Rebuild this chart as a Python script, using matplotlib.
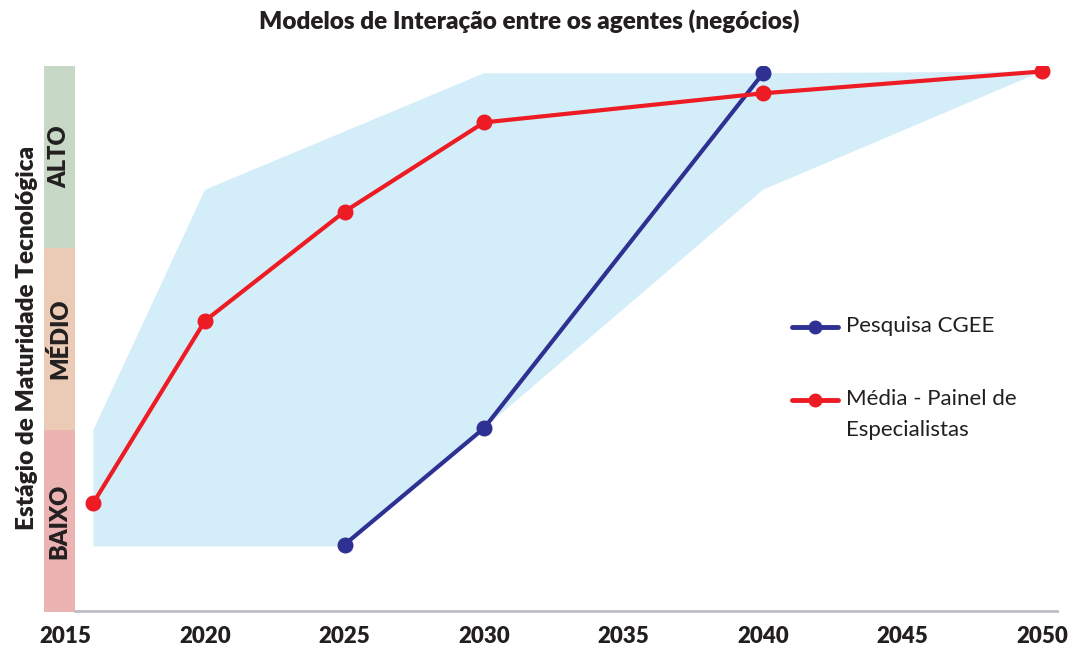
import matplotlib
matplotlib.use("Agg")
import matplotlib.pyplot as plt
import matplotlib.transforms as mtransforms
from matplotlib.patches import Rectangle
import numpy as np

plt.rcParams['font.family'] = ['Lato', 'DejaVu Sans']

# data
title = "Modelos de Interação entre os agentes (negócios)"
ylabel = "Estágio de Maturidade Tecnológica"
levels = ["BAIXO", "MÉDIO", "ALTO"]
level_colors = ["#ebb3b2", "#ebcbb5", "#c7d9c6"]
xticks = [2015, 2020, 2025, 2030, 2035, 2040, 2045, 2050]

red_years = [2016, 2020, 2025, 2030, 2040, 2050]
red_vals = [0.60, 1.60, 2.20, 2.69, 2.85, 2.97]
blue_years = [2025, 2030, 2040]
blue_vals = [0.37, 1.01, 2.96]

band_up_years = [2016, 2016, 2020, 2030, 2040, 2050]
band_up_vals = [0.36, 1.00, 2.32, 2.96, 2.96, 2.97]
band_low_years = [2016, 2025, 2030, 2040, 2050]
band_low_vals = [0.36, 0.36, 1.01, 2.32, 2.97]

series_labels = ["Pesquisa CGEE", "Média - Painel de\nEspecialistas"]

red = "#ed1c24"
blue = "#2e3192"
band = "#d4eef9"
txt = "#231f20"

fig = plt.figure(figsize=(10.88, 6.47), dpi=100)
ax = fig.add_axes([44 / 1088, 35 / 647, 1031 / 1088, 546 / 647])
ax.set_xlim(2014.23, 2051.18)
ax.set_ylim(0, 3)

# confidence band
bx = np.concatenate([band_up_years, band_low_years[::-1]])
by = np.concatenate([band_up_vals, band_low_vals[::-1]])
ax.fill(bx, by, color=band, lw=0, zorder=1)

ax.plot(blue_years, blue_vals, color=blue, lw=3, marker="o", ms=10.5, zorder=3,
        solid_capstyle="round")
ax.plot(red_years, red_vals, color=red, lw=3, marker="o", ms=10.5, zorder=4,
        solid_capstyle="round")

# maturity level strip on the left
trans = mtransforms.blended_transform_factory(ax.transAxes, ax.transData)
strip_w = 31 / 1031
for i, (lev, col) in enumerate(zip(levels, level_colors)):
    ax.add_patch(Rectangle((0, i), strip_w, 1, transform=trans, color=col,
                           lw=0, zorder=2, clip_on=False))
    ax.text(strip_w / 2, i + 0.5, lev, transform=trans, rotation=90,
            ha="center", va="center", fontsize=17, fontweight="heavy", color=txt)

for s in ax.spines.values():
    s.set_visible(False)
ax.plot([strip_w, 0.9825], [0.004, 0.004], transform=trans, color="#bdbdc5", lw=2,
        clip_on=False, zorder=2)

ax.set_yticks([])
ax.set_xticks(xticks)
ax.set_xticklabels([str(x) for x in xticks], fontsize=16, fontweight="heavy", color=txt)
ax.tick_params(axis="x", length=0, pad=10)

fig.text(27 / 1088, 1 - 338 / 647, ylabel, rotation=90, ha="center", va="center",
         fontsize=17.5, fontweight="heavy", color=txt)
fig.text(529 / 1088, 1 - 21 / 647, title, ha="center", va="center",
         fontsize=17.5, fontweight="heavy", color=txt)

# legend drawn by hand so the handle lines up with the first text line
leg_y = [1 - 327 / 647, 1 - 400 / 647]
for col, lab, yy in zip([blue, red], series_labels, leg_y):
    fig.add_artist(plt.Line2D([792 / 1088, 838 / 1088], [yy, yy], color=col, lw=3.5,
                              solid_capstyle="round"))
    fig.add_artist(plt.Line2D([815 / 1088], [yy], color=col, marker="o", ms=9))
    fig.text(846 / 1088, yy + 11 / 647, lab, ha="left", va="top", fontsize=16,
             color=txt, linespacing=1.7)

fig.savefig("out.png", dpi=100)
